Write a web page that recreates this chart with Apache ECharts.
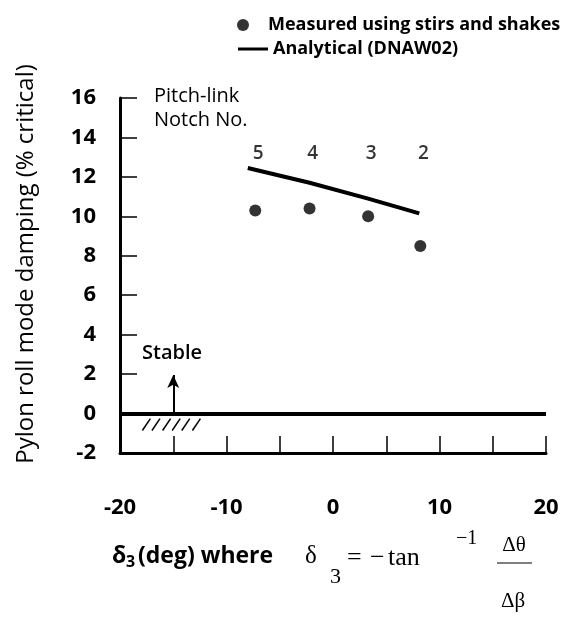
<!DOCTYPE html>
<html>
<head>
<meta charset="utf-8">
<script src="https://cdn.jsdelivr.net/npm/echarts@6/dist/echarts.min.js"></script>
<style>
  html, body { margin: 0; padding: 0; background: #fff; }
  #chart { width: 564px; height: 618px; }
</style>
</head>
<body>
<div id="chart"></div>
<script>
// values
const notchNo = ['5', '4', '3', '2'];
const measuredX = [-7.3, -2.2, 3.3, 8.2];
const measuredY = [10.3, 10.4, 10.0, 8.5];
const analyticalX = [-8.0, -2.2, 3.3, 8.1];
const analyticalY = [12.45, 11.7, 10.9, 10.15];
const notchLabelY = 13.2;
const xLabelTicks = [-20, -10, 0, 10, 20];
// hatch under the zero line (bottom-left x of each slash)
const hatchX = [-17.9, -17.0, -16.0, -15.1, -14.2, -13.2];
const stableArrow = [[-15, 0], [-15, 1.95]];

const SANS = '"Open Sans", "Noto Sans", sans-serif';
const SERIF = '"Liberation Serif", "DejaVu Serif", serif';
const BLACK = '#000';

const chart = echarts.init(document.getElementById('chart'));

function mathText(x, y, text, size, extra) {
  return {
    type: 'text', x, y,
    style: Object.assign({ text, fontFamily: SERIF, fontSize: size, fill: BLACK, verticalAlign: 'middle' }, extra || {}),
  };
}

const option = {
  animation: false,
  grid: { left: 120, right: 18, top: 98, bottom: 165 },
  legend: [
    {
      data: [{ name: 'Measured using stirs and shakes', icon: 'circle' }],
      left: 232, top: 11,
      itemWidth: 12, itemHeight: 12,
      textStyle: { fontFamily: SANS, fontSize: 18, fontWeight: 'bold', color: BLACK, padding: [0, 0, 0, 14] },
    },
    {
      data: [{ name: 'Analytical (DNAW02)', icon: 'rect' }],
      left: 233, top: 35,
      itemWidth: 30, itemHeight: 3,
      textStyle: { fontFamily: SANS, fontSize: 18, fontWeight: 'bold', color: BLACK },
    },
  ],
  xAxis: {
    type: 'value', min: -20, max: 20, interval: 5,
    splitLine: { show: false },
    axisLine: { onZero: false, lineStyle: { color: BLACK, width: 3 } },
    axisTick: { inside: true, length: 17, lineStyle: { color: BLACK, width: 1.5 } },
    axisLabel: {
      margin: 44, fontFamily: SANS, fontSize: 22, fontWeight: 'bold', color: BLACK,
      formatter: (v) => (xLabelTicks.includes(v) ? String(v) : ''),
    },
  },
  yAxis: {
    type: 'value', min: -2, max: 16, interval: 2,
    splitLine: { show: false },
    axisLine: { onZero: false, lineStyle: { color: BLACK, width: 3 } },
    axisTick: { inside: true, length: 17, lineStyle: { color: BLACK, width: 1.5 } },
    axisLabel: { margin: 24, fontFamily: SANS, fontSize: 22, fontWeight: 'bold', color: BLACK },
  },
  series: [
    {
      name: 'Analytical (DNAW02)',
      type: 'line',
      data: analyticalX.map((x, i) => [x, analyticalY[i]]),
      symbol: 'none',
      lineStyle: { color: BLACK, width: 4 },
      itemStyle: { color: BLACK },
      z: 3,
    },
    {
      name: 'Measured using stirs and shakes',
      type: 'scatter',
      data: measuredX.map((x, i) => [x, measuredY[i]]),
      symbolSize: 12,
      itemStyle: { color: BLACK },
      z: 4,
      // the stable boundary (zero damping)
      markLine: {
        silent: true,
        symbol: ['none', 'none'],
        label: { show: false },
        lineStyle: { color: BLACK, width: 4, type: 'solid' },
        data: [{ yAxis: 0 }],
      },
    },
    {
      // notch numbers above the points
      type: 'scatter',
      data: measuredX.map((x) => [x, notchLabelY]),
      symbolSize: 0,
      silent: true,
      label: {
        show: true, position: 'inside', offset: [3, 0],
        fontFamily: SANS, fontSize: 19, fontWeight: 600, color: BLACK,
        formatter: (p) => notchNo[p.dataIndex],
      },
      // "Stable" arrow
      markLine: {
        silent: true,
        symbol: ['none', 'arrow'],
        symbolSize: [9, 13],
        label: { show: false },
        lineStyle: { color: BLACK, width: 2, type: 'solid' },
        data: [[{ coord: stableArrow[0] }, { coord: stableArrow[1] }]],
      },
    },
    {
      type: 'custom',
      silent: true,
      data: hatchX.map((x) => [x, 0]),
      renderItem: (params, api) => {
        const p0 = api.coord([api.value(0), -0.86]);
        const p1 = api.coord([api.value(0) + 0.75, -0.26]);
        return {
          type: 'line',
          shape: { x1: p0[0], y1: p0[1], x2: p1[0], y2: p1[1] },
          style: { stroke: BLACK, lineWidth: 1.5 },
        };
      },
    },
  ],
  graphic: [
    {
      type: 'text', x: 26, y: 264, rotation: Math.PI / 2,
      style: {
        text: 'Pylon roll mode damping (% critical)',
        fontFamily: SANS, fontSize: 24, fontWeight: 500, fill: BLACK,
        align: 'center', verticalAlign: 'middle',
      },
    },
    {
      type: 'text', left: 154, top: 84,
      style: {
        text: 'Pitch-link\nNotch No.', lineHeight: 24,
        fontFamily: SANS, fontSize: 20, fontWeight: 500, fill: BLACK,
      },
    },
    {
      type: 'text', left: 142, top: 343,
      style: { text: 'Stable', fontFamily: SANS, fontSize: 20, fontWeight: 600, fill: BLACK },
    },
    // x axis title: δ3 (deg) where δ3 = -tan^-1 Δθ/Δβ
    { type: 'text', x: 112, y: 556, style: { text: 'δ', fontFamily: SANS, fontSize: 23, fontWeight: 'bold', fill: BLACK, verticalAlign: 'middle' } },
    { type: 'text', x: 126, y: 562, style: { text: '3', fontFamily: SANS, fontSize: 16, fontWeight: 'bold', fill: BLACK, verticalAlign: 'middle' } },
    { type: 'text', x: 138, y: 556, style: { text: '(deg) where', fontFamily: SANS, fontSize: 23, fontWeight: 'bold', fill: BLACK, verticalAlign: 'middle' } },
    mathText(305, 556, 'δ', 25),
    mathText(330, 577, '3', 22),
    mathText(347, 558, '=', 26),
    mathText(370, 558, '−', 26),
    mathText(388, 558, 'tan', 26),
    mathText(456, 539, '−1', 20),
    mathText(514, 545, 'Δθ', 21, { align: 'center' }),
    { type: 'line', shape: { x1: 497, y1: 563, x2: 532, y2: 563 }, style: { stroke: BLACK, lineWidth: 1.2 } },
    mathText(513, 601, 'Δβ', 21, { align: 'center' }),
  ],
};

chart.setOption(option);
</script>
</body>
</html>
